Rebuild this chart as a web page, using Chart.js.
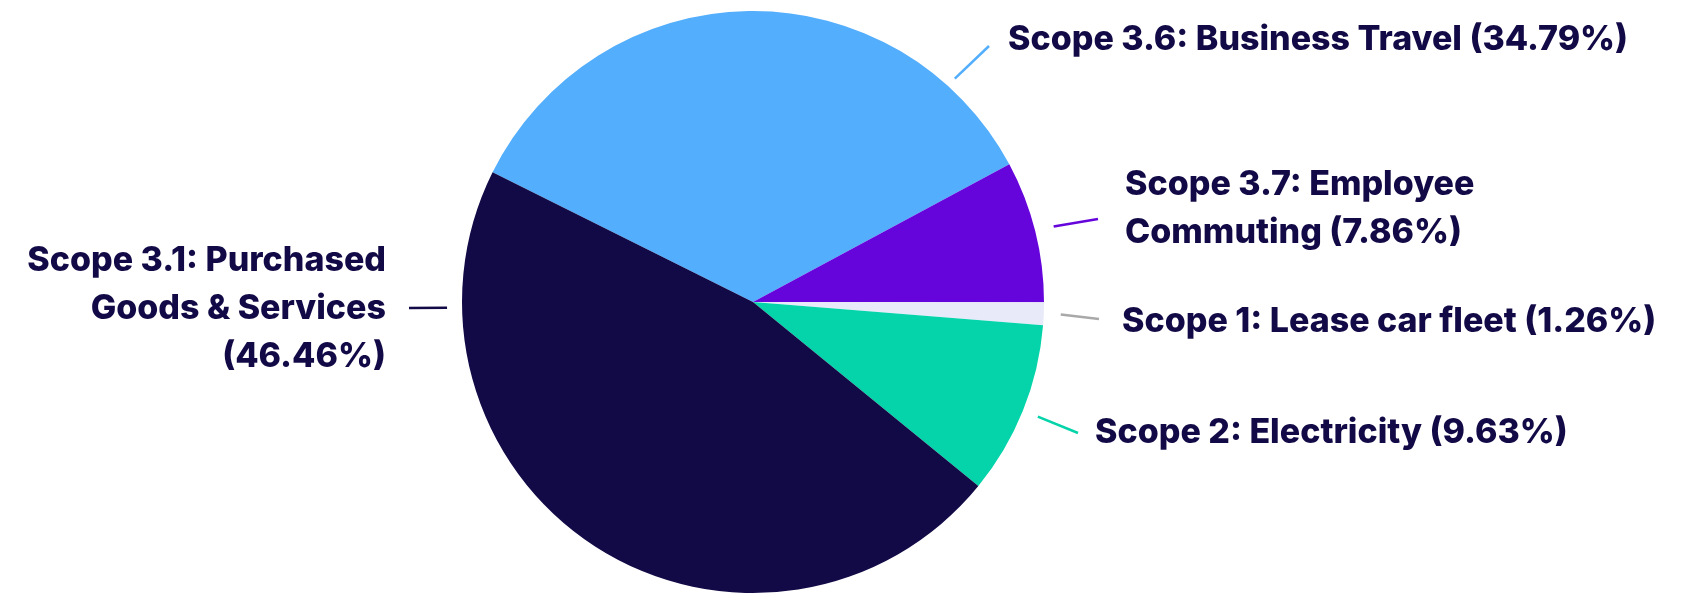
<!DOCTYPE html>
<html>
<head>
<meta charset="utf-8">
<script src="https://cdn.jsdelivr.net/npm/chart.js@4"></script>
<style>
  html, body { margin: 0; padding: 0; background: #ffffff; }
  #wrap { width: 1695px; height: 594px; }
</style>
</head>
<body>
<div id="wrap"><canvas id="pieChart"></canvas></div>
<script>
// data
const labels = [
    "Scope 3.6: Business Travel",
    "Scope 3.7: Employee Commuting",
    "Scope 1: Lease car fleet",
    "Scope 2: Electricity",
    "Scope 3.1: Purchased Goods & Services"
];
const shares = [34.79, 7.86, 1.26, 9.63, 46.46];
const colors = ["#53aefd", "#6605db", "#e8e9f9", "#05d4ab", "#120a46"];
const lineColors = ["#53aefd", "#6605db", "#a9a9a9", "#05d4ab", "#120a46"];

// label text lines, as shown in the picture
const labelLines = [
    ["Scope 3.6: Business Travel (34.79%)"],
    ["Scope 3.7: Employee", "Commuting (7.86%)"],
    ["Scope 1: Lease car fleet (1.26%)"],
    ["Scope 2: Electricity (9.63%)"],
    ["Scope 3.1: Purchased", "Goods & Services", "(46.46%)"]
];

// label layout: leader angle (deg, null = slice middle), gap from pie, line end, text anchor
const labelLayout = [
    { angle: -47.9, gap: 10, ex: 989, ey: 46, tx: 1008, ty: 40, align: "left" },
    { angle: null, gap: 19, ex: 1098, ey: 219, tx: 1125, ty: 185, align: "left" },
    { angle: null, gap: 17, ex: 1099, ey: 319, tx: 1122, ty: 322, align: "left" },
    { angle: null, gap: 16, ex: 1078, ey: 433, tx: 1095, ty: 433, align: "left" },
    { angle: 178.9, gap: 15, ex: 409, ey: 308, tx: 386, ty: 261, align: "right" }
];

const textColor = "#120a46";
const lineHeight = 48;

const outsideLabels = {
    id: "outsideLabels",
    afterDatasetsDraw(chart) {
        const ctx = chart.ctx;
        const arcs = chart.getDatasetMeta(0).data;
        ctx.save();
        arcs.forEach((arc, i) => {
            const p = arc.getProps(["x", "y", "startAngle", "endAngle", "outerRadius"], true);
            const lay = labelLayout[i];
            const a = lay.angle === null ? (p.startAngle + p.endAngle) / 2 : lay.angle * Math.PI / 180;
            const r = p.outerRadius + lay.gap;
            const sx = p.x + Math.cos(a) * r;
            const sy = p.y + Math.sin(a) * r;

            ctx.strokeStyle = lineColors[i];
            ctx.lineWidth = 2.5;
            ctx.beginPath();
            ctx.moveTo(sx, sy);
            ctx.lineTo(lay.ex, lay.ey);
            ctx.stroke();

            ctx.fillStyle = textColor;
            ctx.font = "800 34px Inter";
            ctx.textAlign = lay.align;
            ctx.textBaseline = "middle";
            labelLines[i].forEach((t, k) => {
                ctx.fillText(t, lay.tx, lay.ty + k * lineHeight);
            });
        });
        ctx.restore();
    }
};

new Chart(document.getElementById("pieChart"), {
    type: "pie",
    data: {
        labels: labels,
        datasets: [{
            data: shares,
            backgroundColor: colors,
            borderWidth: 0,
            hoverOffset: 0
        }]
    },
    options: {
        responsive: true,
        maintainAspectRatio: false,
        animation: false,
        rotation: 296.5,
        layout: { padding: { top: 11, bottom: 1, left: 300, right: 489 } },
        plugins: {
            legend: { display: false },
            tooltip: { enabled: false }
        }
    },
    plugins: [outsideLabels]
});
</script>
</body>
</html>
